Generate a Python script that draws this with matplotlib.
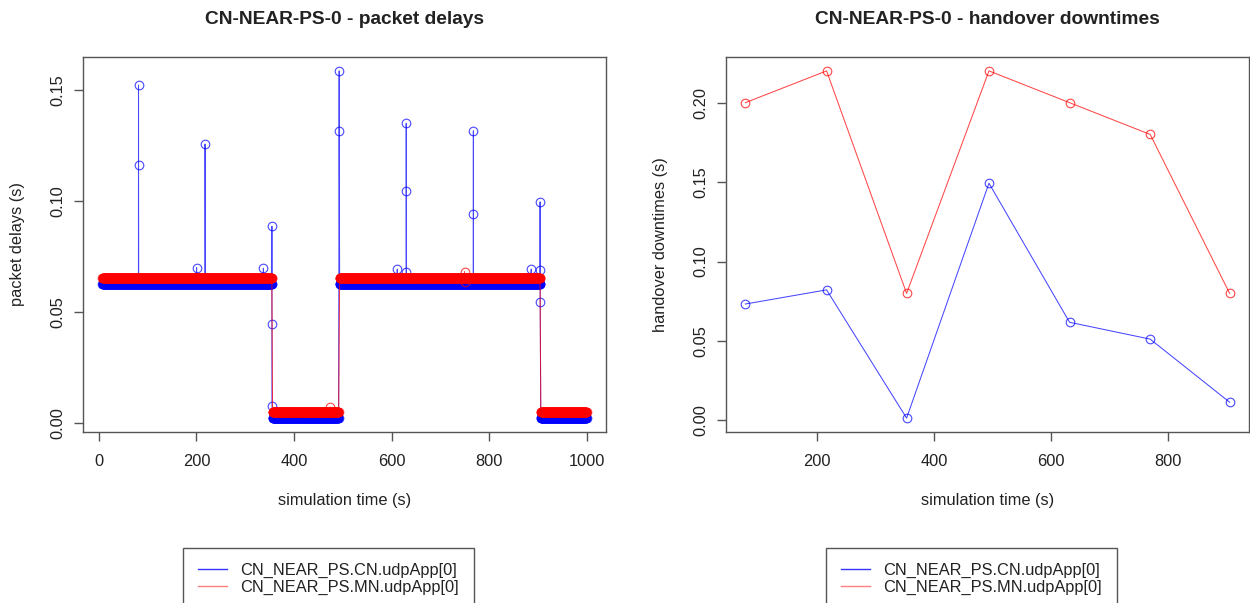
import numpy as np
import matplotlib
matplotlib.use("Agg")
import matplotlib.pyplot as plt

plt.rcParams['font.family'] = ['Liberation Sans', 'DejaVu Sans']

W, H = 1250, 603

# --- packet delays (left panel) ---
# steady delay level of each phase between handovers
phase_start = [7, 356, 493.5, 906]
phase_end = [354.5, 491.5, 904.5, 1000]
cn_phase_delay = [0.0626, 0.00225, 0.0626, 0.00225]
mn_phase_delay = [0.0652, 0.0051, 0.0652, 0.0051]
send_interval = 0.5

# single packets that stick out of the steady level
cn_out_t = [81.1, 81.2, 200.2, 217.6, 337.2, 354.6, 354.7, 354.8, 492.6, 492.7,
            611.7, 630.1, 630.2, 630.3, 767.8, 767.9, 886.4, 904.6, 904.7, 904.8]
cn_out_d = [0.1523, 0.1165, 0.0701, 0.1257, 0.0698, 0.0887, 0.0446, 0.0078, 0.1587, 0.1317,
            0.0694, 0.1351, 0.1048, 0.0679, 0.1317, 0.0941, 0.0694, 0.0997, 0.0689, 0.0544]
mn_out_t = [474.2, 749.6, 749.7]
mn_out_d = [0.0072, 0.0682, 0.0634]

# --- handover downtimes (right panel) ---
ho_time = [77, 216, 353, 494, 632, 770, 906]
cn_downtime = [0.0733, 0.0822, 0.0015, 0.1493, 0.0618, 0.0512, 0.0115]
mn_downtime = [0.200, 0.220, 0.080, 0.220, 0.200, 0.180, 0.080]

labels = ["CN_NEAR_PS.CN.udpApp[0]", "CN_NEAR_PS.MN.udpApp[0]"]
BLUE = "#0000ff"
RED = "#ff0000"
AXC = "#555555"
TXT = "#222222"
FS = 11.8


def build_series(levels, out_t, out_d):
    ts, ds = [], []
    for s, e, lvl in zip(phase_start, phase_end, levels):
        t = np.arange(s, e + 1e-9, send_interval)
        ts.append(t)
        ds.append(np.full(len(t), lvl))
    ts.append(np.array(out_t))
    ds.append(np.array(out_d))
    t = np.concatenate(ts)
    d = np.concatenate(ds)
    order = np.argsort(t, kind="stable")
    return t[order], d[order]


def style_axes(ax):
    for sp in ax.spines.values():
        sp.set_color(AXC)
        sp.set_linewidth(1.0)
    ax.tick_params(direction="out", length=6.5, width=1.0, color=AXC,
                   labelsize=FS, labelcolor=TXT)
    ax.tick_params(axis="x", pad=9)
    ax.tick_params(axis="y", pad=6.5)
    for lab in ax.get_yticklabels():
        lab.set_rotation(90)
        lab.set_va("center")
    ax.margins(0.04)


fig = plt.figure(figsize=(W / 100, H / 100), dpi=100)

axl = fig.add_axes([83 / W, 1 - 432 / H, 523 / W, 375 / H])
axr = fig.add_axes([726 / W, 1 - 432 / H, 523 / W, 375 / H])

mk = dict(marker="o", markersize=6.2, markerfacecolor="none", markeredgewidth=0.8,
          lw=0.75, alpha=0.72)

t_cn, d_cn = build_series(cn_phase_delay, cn_out_t, cn_out_d)
t_mn, d_mn = build_series(mn_phase_delay, mn_out_t, mn_out_d)
axl.plot(t_cn, d_cn, color=BLUE, markeredgecolor=BLUE, **mk)
axl.plot(t_mn, d_mn, color=RED, markeredgecolor=RED, **mk)
axl.set_xticks([0, 200, 400, 600, 800, 1000])
axl.set_yticks([0.00, 0.05, 0.10, 0.15])
axl.set_yticklabels(["0.00", "0.05", "0.10", "0.15"])
style_axes(axl)
axl.set_xlabel("simulation time (s)", fontsize=FS, color=TXT)
axl.set_ylabel("packet delays (s)", fontsize=FS, color=TXT)

axr.plot(ho_time, cn_downtime, color=BLUE, markeredgecolor=BLUE, **mk)
axr.plot(ho_time, mn_downtime, color=RED, markeredgecolor=RED, **mk)
axr.set_xticks([200, 400, 600, 800])
axr.set_yticks([0.00, 0.05, 0.10, 0.15, 0.20])
axr.set_yticklabels(["0.00", "0.05", "0.10", "0.15", "0.20"])
style_axes(axr)
axr.set_xlabel("simulation time (s)", fontsize=FS, color=TXT)
axr.set_ylabel("handover downtimes (s)", fontsize=FS, color=TXT)

for ax in (axl, axr):
    ax.xaxis.set_label_coords(0.5, (432 - 501) / 375)
    ax.xaxis.label.set_va("center")
    ax.yaxis.set_label_coords((18 - 83) / 523, 0.5)
    ax.yaxis.label.set_va("center")

fig.text(344.5 / W, 1 - 20 / H, "CN-NEAR-PS-0 - packet delays", ha="center", va="center",
         fontsize=13.8, fontweight="bold", color=TXT)
fig.text(987.5 / W, 1 - 20 / H, "CN-NEAR-PS-0 - handover downtimes", ha="center", va="center",
         fontsize=13.8, fontweight="bold", color=TXT)

for ax, x0 in ((axl, 183), (axr, 826)):
    hb, = ax.plot([], [], color=BLUE, lw=1.0, alpha=0.8)
    hr, = ax.plot([], [], color=RED, lw=1.0, alpha=0.5)
    leg = ax.legend([hb, hr], labels, loc="upper left",
                    bbox_to_anchor=(x0 / W, 1 - 548 / H), bbox_transform=fig.transFigure,
                    borderaxespad=0, borderpad=0.9, handlelength=1.8, handletextpad=0.8,
                    labelspacing=0.1, fontsize=FS, fancybox=False, framealpha=1,
                    edgecolor=AXC)
    leg.get_frame().set_linewidth(1.0)
    for t in leg.get_texts():
        t.set_color(TXT)

fig.savefig("out.png", dpi=100)
